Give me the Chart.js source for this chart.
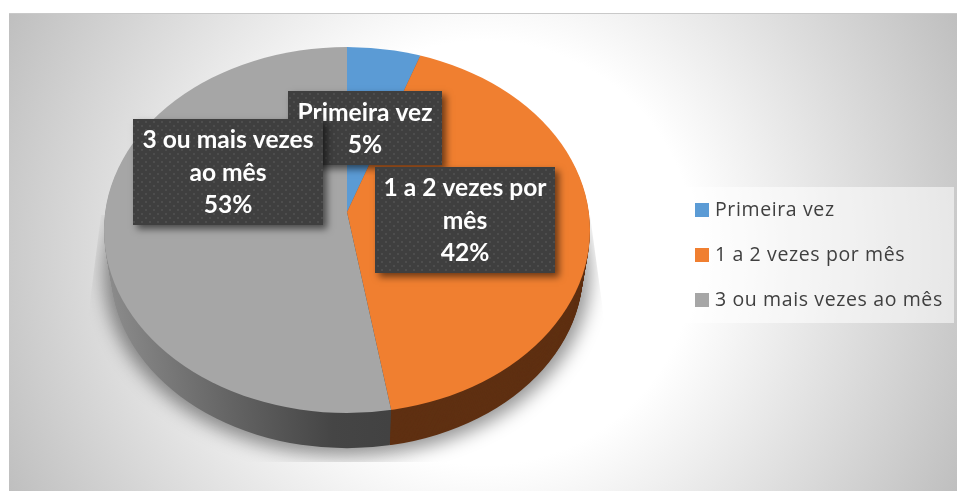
<!DOCTYPE html>
<html><head><meta charset="utf-8">
<style>html,body{margin:0;padding:0;background:#fff}canvas{display:block}</style>
<script src="https://cdn.jsdelivr.net/npm/chart.js@4"></script>
</head><body><canvas id="c" width="957" height="491"></canvas>
<script>
const categories = ["Primeira vez", "1 a 2 vezes por mês", "3 ou mais vezes ao mês"];
const values = [5.4, 41.95, 52.65];
const colors = ["#5b9bd5", "#f07f30", "#a6a6a6"];
const labelLines = [["Primeira vez"], ["1 a 2 vezes por", "mês"], ["3 ou mais vezes", "ao mês"]];

const APEX = {x: 347, y: 212}, RX = 243, K = 183 / 243, CY_OFF = 18, DEPTH = 41, SHRINK = 0.029;
const BOXES = [
  {i: 0, x: 288, y: 91, w: 154, h: 74},
  {i: 1, x: 375, y: 167, w: 180, h: 106},
  {i: 2, x: 133, y: 119, w: 190, h: 106}
];
const LABEL_FONT = "bold 24.6px Lato";

function dots(ctx) {
  const p = document.createElement('canvas'); p.width = 8; p.height = 8;
  const g = p.getContext('2d');
  g.fillStyle = '#3f3f3f'; g.fillRect(0, 0, 8, 8);
  g.fillStyle = '#4d4d4d'; g.fillRect(1, 1, 2, 2); g.fillRect(5, 5, 2, 2);
  return ctx.createPattern(p, 'repeat');
}
function drawArcs(chart, ctx, t, fills) {
  const arcs = chart.getDatasetMeta(0).data;
  const s = 1 - SHRINK * t;
  [0, 1, 2].forEach(i => {
    const el = arcs[i], r0 = el.outerRadius, o0 = el.options;
    ctx.save();
    ctx.translate(APEX.x, APEX.y + DEPTH * t);
    ctx.scale(s, K * s);
    ctx.beginPath();
    ctx.arc(0, CY_OFF / K, RX, 0, Math.PI * 2);
    ctx.clip();
    ctx.translate(-el.x, -el.y);
    el.outerRadius = 520;
    if (fills) el.options = Object.assign({}, o0, {backgroundColor: fills[i](el, ctx)});
    el.draw(ctx);
    el.outerRadius = r0; el.options = o0;
    ctx.restore();
  });
}
const look = {
  id: 'look',
  beforeDraw(chart) {
    const ctx = chart.ctx, W = chart.width, H = chart.height;
    ctx.save();
    ctx.fillStyle = '#fff'; ctx.fillRect(0, 0, W, H);
    const g = ctx.createRadialGradient(483, 253, 0, 483, 253, 530);
    g.addColorStop(0, '#fff'); g.addColorStop(0.4, '#fff'); g.addColorStop(1, '#bfbfbf');
    ctx.fillStyle = g; ctx.fillRect(9, 14, W - 9, H - 14);
    ctx.fillStyle = '#c9c9c9'; ctx.fillRect(9, 13, W - 9, 1);
    ctx.restore();
  },
  beforeDatasetDraw(chart) {
    const ctx = chart.ctx;
    ctx.save();
    ctx.beginPath();
    ctx.moveTo(101, 215); ctx.lineTo(87, 325); ctx.lineTo(87, 462); ctx.lineTo(605, 462);
    ctx.lineTo(605, 325); ctx.lineTo(590, 215); ctx.closePath(); ctx.clip();
    ctx.filter = 'blur(9px)';
    ctx.fillStyle = 'rgba(0,0,0,0.42)';
    ctx.beginPath(); ctx.ellipse(347, 274, 243, 182, 0, 0, Math.PI * 2); ctx.fill();
    ctx.restore();
    const side = [
      () => '#3f6c95',
      () => '#5f3012',
      (el, c) => {
        const g = c.createLinearGradient(el.x - 244, 0, el.x + 43, 0);
        g.addColorStop(0, '#8c8c8c'); g.addColorStop(0.45, '#636363');
        g.addColorStop(0.8, '#454545'); g.addColorStop(1, '#424242');
        return g;
      }
    ];
    for (let d = DEPTH; d >= 1; d--) drawArcs(chart, ctx, d / DEPTH, side);
    drawArcs(chart, ctx, 0, null);
    return false;
  },
  afterDatasetsDraw(chart) {
    const ctx = chart.ctx, pat = dots(ctx);
    BOXES.forEach(b => {
      ctx.save();
      ctx.shadowColor = 'rgba(0,0,0,0.55)'; ctx.shadowBlur = 7;
      ctx.shadowOffsetX = 4; ctx.shadowOffsetY = 4;
      ctx.fillStyle = '#3f3f3f'; ctx.fillRect(b.x, b.y, b.w, b.h);
      ctx.restore();
      ctx.save();
      ctx.fillStyle = pat; ctx.fillRect(b.x, b.y, b.w, b.h);
      const lines = labelLines[b.i].concat([Math.round(values[b.i]) + '%']);
      ctx.fillStyle = '#fff'; ctx.font = LABEL_FONT;
      ctx.textAlign = 'center'; ctx.textBaseline = 'middle';
      const lh = 32.5, top = b.y + b.h / 2 - lh * (lines.length - 1) / 2 + 1;
      lines.forEach((l, n) => ctx.fillText(l, b.x + b.w / 2, top + n * lh));
      ctx.restore();
    });
    ctx.save();
    ctx.fillStyle = 'rgba(255,255,255,0.55)'; ctx.fillRect(683, 187, 271, 136);
    ctx.font = '19.5px "Open Sans"'; ctx.letterSpacing = '0.62px';
    ctx.textBaseline = 'middle'; ctx.textAlign = 'left';
    categories.forEach((c, i) => {
      const y = 210 + i * 45;
      ctx.fillStyle = colors[i]; ctx.fillRect(695, y - 7, 14, 14);
      ctx.fillStyle = '#404040'; ctx.fillText(c, 715, y + 0.5);
    });
    ctx.restore();
  }
};
new Chart(document.getElementById('c'), {
  type: 'pie',
  data: {labels: categories, datasets: [{data: values, backgroundColor: colors, borderWidth: 0}]},
  options: {
    responsive: false, animation: false,
    plugins: {tooltip: {enabled: false}, legend: {display: false}}
  },
  plugins: [look]
});
</script></body></html>
